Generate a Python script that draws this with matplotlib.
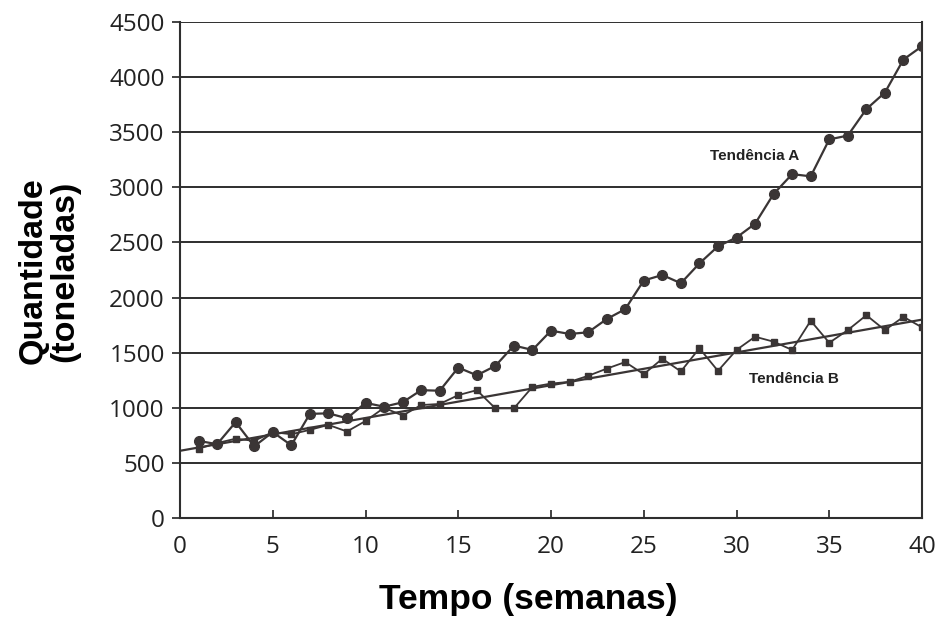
import matplotlib.pyplot as plt

weeks = list(range(1, 41))

# Tendência A (circles)
serie_a = [700, 670, 870, 650, 780, 660, 945, 950, 905, 1045,
           1010, 1050, 1160, 1155, 1365, 1295, 1380, 1565, 1525, 1700,
           1670, 1685, 1805, 1895, 2155, 2205, 2130, 2310, 2465, 2545,
           2670, 2940, 3120, 3100, 3435, 3470, 3710, 3860, 4160, 4280]

# Tendência B (squares)
serie_b = [630, 680, 720, 700, 780, 760, 800, 845, 785, 880,
           1000, 930, 1025, 1035, 1115, 1160, 995, 995, 1190, 1220,
           1235, 1290, 1355, 1415, 1305, 1445, 1330, 1540, 1335, 1525,
           1645, 1600, 1525, 1790, 1590, 1705, 1840, 1705, 1825, 1730]

# straight trend line of B
trend_x = [0, 40]
trend_y = [610, 1800]

y_ticks = [0, 500, 1000, 1500, 2000, 2500, 3000, 3500, 4000, 4500]
x_ticks = [0, 5, 10, 15, 20, 25, 30, 35, 40]

line_color = '#3a3535'
grid_color = '#2e2e2e'

fig = plt.figure(figsize=(9.39, 6.17), dpi=100)
ax = fig.add_axes([0.1917, 0.1604, 0.7902, 0.8039])

for yv in y_ticks[1:]:
    ax.axhline(yv, color=grid_color, linewidth=1.4, zorder=1)

ax.plot(trend_x, trend_y, color=line_color, linewidth=1.6, zorder=2)
ax.plot(weeks, serie_b, color=line_color, linewidth=1.3, marker='s',
        markersize=4, zorder=3)
ax.plot(weeks, serie_a, color=line_color, linewidth=1.6, marker='o',
        markersize=7, zorder=4)

ax.set_xlim(0, 40)
ax.set_ylim(0, 4500)
ax.set_xticks(x_ticks)
ax.set_yticks(y_ticks)
ax.tick_params(axis='both', labelsize=17.5, colors='#222222', length=6, width=1.2)
ax.tick_params(axis='x', direction='in', pad=12)
ax.tick_params(axis='y', direction='out', pad=5)
for lab in ax.get_xticklabels() + ax.get_yticklabels():
    lab.set_family('Open Sans')

ax.spines['top'].set_visible(False)
for side in ['left', 'bottom', 'right']:
    ax.spines[side].set_color(grid_color)
    ax.spines[side].set_linewidth(1.5)

ax.text(28.55, 3280, 'Tendência A', fontsize=11, fontweight='bold',
        family='Liberation Sans', color='#222222', va='center')
ax.text(30.7, 1265, 'Tendência B', fontsize=11, fontweight='bold',
        family='Liberation Sans', color='#222222', va='center')

fig.text(0.563, 0.028, 'Tempo (semanas)', fontsize=25.5, fontweight='bold',
         family='Liberation Sans', ha='center', va='center')
fig.text(0.052, 0.561, 'Quantidade\n(toneladas)', fontsize=24.5, fontweight='bold',
         family='Liberation Sans', ha='center', va='center', rotation=90,
         linespacing=1.0)

fig.savefig('out.png', dpi=100)
